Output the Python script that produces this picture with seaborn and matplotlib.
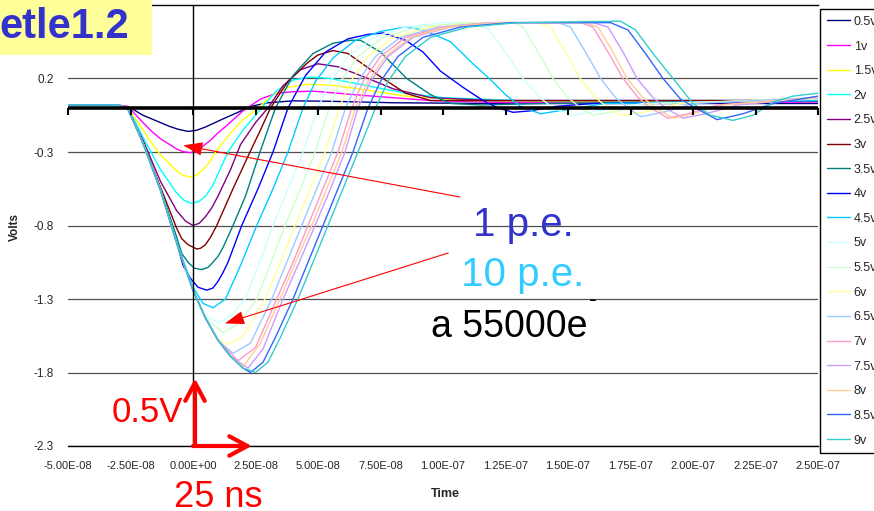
import numpy as np
import pandas as pd
import matplotlib
matplotlib.use("Agg")
import matplotlib.pyplot as plt
import seaborn as sns
from matplotlib.patches import Rectangle

sns.set_style("white")
plt.rcParams["font.family"] = ["Liberation Sans", "DejaVu Sans"]
NARROW = ["Liberation Sans Narrow", "Liberation Sans", "DejaVu Sans"]

W, H = 874, 511

labels = ["0.5v", "1v", "1.5v", "2v", "2.5v", "3v", "3.5v", "4v", "4.5v",
          "5v", "5.5v", "6v", "6.5v", "7v", "7.5v", "8v", "8.5v", "9v"]
colors = ["#000080", "#FF00FF", "#FFFF00", "#00FFFF", "#800080", "#800000",
          "#008080", "#0000FF", "#00CCFF", "#CCFFFF", "#CCFFCC", "#FFFF99",
          "#99CCFF", "#FF99CC", "#CC99FF", "#FFCC99", "#3366FF", "#33CCCC"]

# times in ns, volts
t_05 = [-50, -30, -25, -20, -13, -9.5, -6, -2, 1.5, 5, 12, 18, 23, 30, 40, 55, 80, 120, 180, 250]
v_05 = [0.02, 0.02, 0.0, -0.05, -0.10, -0.125, -0.145, -0.16, -0.152, -0.13, -0.075, -0.03,
        0.01, 0.035, 0.048, 0.045, 0.035, 0.03, 0.03, 0.03]

t_1 = [-50, -30, -26, -20, -16.5, -13, -6.5, -4, -1, 2.5, 7, 10, 13.5, 20, 27, 33.5, 40, 48,
       68, 95, 130, 180, 250]
v_1 = [0.02, 0.02, 0.01, -0.10, -0.16, -0.21, -0.28, -0.297, -0.305, -0.28, -0.22, -0.17,
       -0.12, -0.02, 0.06, 0.10, 0.11, 0.114, 0.085, 0.05, 0.035, 0.035, 0.04]

t_15 = [-50, -30, -26, -20, -16.5, -13, -6.5, -4, -1, 1.5, 4, 6.5, 9, 15, 20, 26, 32, 38, 45,
        55, 70, 85, 110, 170, 250]
v_15 = [0.02, 0.02, 0.0, -0.15, -0.24, -0.32, -0.43, -0.46, -0.47, -0.455, -0.42, -0.37,
        -0.30, -0.17, -0.08, 0.0, 0.09, 0.14, 0.16, 0.155, 0.12, 0.08, 0.05, 0.04, 0.05]

t_2 = [-50, -30, -26, -20, -16.5, -13, -6.5, -3.5, -0.5, 2.5, 5, 7.5, 10, 14, 20, 27.5, 33,
       40, 47, 55, 70, 85, 100, 130, 250]
v_2 = [0.02, 0.02, 0.0, -0.20, -0.31, -0.42, -0.58, -0.63, -0.65, -0.635, -0.60, -0.54,
       -0.45, -0.30, -0.15, 0.0, 0.11, 0.19, 0.21, 0.20, 0.15, 0.10, 0.07, 0.05, 0.05]

t_25 = [-50, -30, -26, -20, -16.5, -13, -6.5, -3, 0, 2.5, 5, 7.5, 10, 15, 19, 25, 30, 36, 43,
        50, 58, 70, 80, 95, 120, 250]
v_25 = [0.02, 0.02, -0.01, -0.22, -0.36, -0.50, -0.70, -0.77, -0.80, -0.785, -0.74, -0.68,
        -0.60, -0.42, -0.25, -0.10, 0.0, 0.15, 0.26, 0.30, 0.28, 0.20, 0.13, 0.07, 0.05, 0.05]

t_3 = [-50, -30, -26, -20, -16.5, -13, -6.5, -4.5, -2, 1.5, 3, 5, 7, 9.5, 16, 22.8, 27, 31,
       38, 46, 50, 56, 62, 76, 85, 95, 120, 160, 250]
v_3 = [0.02, 0.02, -0.01, -0.23, -0.39, -0.54, -0.82, -0.89, -0.93, -0.96, -0.955, -0.93,
       -0.88, -0.80, -0.55, -0.30, -0.15, 0.0, 0.18, 0.31, 0.36, 0.39, 0.37, 0.20, 0.10,
       0.05, 0.05, 0.05, 0.05]

t_35 = [-50, -30, -26, -20, -16.5, -13, -6.5, -4.5, -2, 0.5, 3.5, 6, 8, 10, 12, 16, 21, 26.8,
        33, 40, 48, 56, 63, 67, 75, 85.5, 95, 103, 115, 140, 250]
v_35 = [0.02, 0.02, -0.01, -0.24, -0.40, -0.55, -0.88, -0.99, -1.05, -1.09, -1.10, -1.085,
        -1.05, -1.01, -0.95, -0.80, -0.60, -0.30, 0.0, 0.22, 0.37, 0.44, 0.46, 0.46, 0.38,
        0.20, 0.09, 0.03, 0.02, 0.03, 0.05]

t_4 = [-50, -30, -26, -20, -16.5, -13, -6.5, -4, -1, 2, 5.5, 8, 10, 12, 14, 19.5, 26, 32, 38,
       45, 53, 62, 70, 76, 85, 92, 99, 108, 116, 122, 128, 135, 145, 160, 250]
v_4 = [0.02, 0.02, -0.01, -0.24, -0.40, -0.56, -0.92, -1.07, -1.16, -1.22, -1.24, -1.225,
       -1.18, -1.12, -1.05, -0.80, -0.55, -0.30, 0.0, 0.22, 0.38, 0.47, 0.50, 0.51, 0.46,
       0.38, 0.25, 0.14, 0.05, 0.0, -0.03, -0.02, 0.01, 0.03, 0.05]

t_45 = [-50, -30, -26, -23, -20, -16.5, -13, -6.5, 0, 4, 8, 13, 18.8, 25.5, 32, 38, 44, 49,
        56, 65, 75, 85, 92, 103, 112, 118.5, 125, 131, 139, 150, 165, 250]
v_45 = [0.02, 0.02, -0.01, -0.12, -0.24, -0.40, -0.56, -0.92, -1.22, -1.33, -1.36, -1.30,
        -1.08, -0.80, -0.55, -0.30, 0.0, 0.18, 0.34, 0.46, 0.52, 0.55, 0.53, 0.45, 0.30, 0.2,
        0.09, 0.01, -0.04, -0.01, 0.03, 0.05]

t_5 = [-50, -30, -26, -23, -20, -16.5, -13, -6.5, 0, 5, 10.8, 16, 20.8, 26, 32, 38, 44, 50,
       55, 62, 72, 85, 100, 112, 118, 125, 132, 138, 144, 152, 162, 180, 250]
v_5 = [0.02, 0.02, -0.01, -0.12, -0.24, -0.40, -0.56, -0.92, -1.24, -1.42, -1.46, -1.40,
       -1.30, -1.08, -0.80, -0.55, -0.30, 0.0, 0.18, 0.35, 0.48, 0.55, 0.58, 0.58, 0.54,
       0.38, 0.2, 0.08, 0.0, -0.05, -0.02, 0.03, 0.06]

t_55 = [-50, -30, -26, -23, -20, -16.5, -13, -6.5, 0, 5, 12, 18, 25.5, 31, 36.8, 43, 48.8,
        54.5, 59, 66, 76, 90, 110, 128, 132, 138, 144, 150, 155, 160, 170, 185, 250]
v_55 = [0.02, 0.02, -0.01, -0.12, -0.24, -0.40, -0.56, -0.92, -1.24, -1.43, -1.53, -1.47,
        -1.30, -1.06, -0.80, -0.55, -0.30, 0.0, 0.18, 0.35, 0.48, 0.55, 0.58, 0.58, 0.55,
        0.38, 0.2, 0.07, 0.0, -0.05, -0.02, 0.03, 0.06]

t_6 = [-50, -30, -26, -23, -20, -16.5, -13, -6.5, 0, 5, 10, 14, 20, 28.8, 35, 40.8, 47, 52.8,
       58.5, 63, 70, 80, 95, 115, 138, 143, 149, 155, 161, 166, 171, 180, 195, 250]
v_6 = [0.02, 0.02, -0.01, -0.12, -0.24, -0.40, -0.56, -0.92, -1.24, -1.43, -1.57, -1.61,
       -1.55, -1.30, -1.05, -0.80, -0.55, -0.30, 0.0, 0.18, 0.35, 0.48, 0.55, 0.58, 0.58,
       0.55, 0.38, 0.2, 0.07, 0.0, -0.05, -0.03, 0.03, 0.07]

t_65 = [-50, -30, -26, -23, -20, -16.5, -13, -6.5, 0, 5, 10, 16, 23, 31.5, 37.5, 43.5, 49.5,
        55.5, 61, 66, 73, 83, 98, 118, 146, 151, 157, 163, 169, 174, 179, 188, 200, 250]
v_65 = [0.02, 0.02, -0.01, -0.12, -0.24, -0.40, -0.56, -0.92, -1.24, -1.43, -1.58, -1.67,
        -1.60, -1.30, -1.05, -0.80, -0.55, -0.30, 0.0, 0.18, 0.35, 0.48, 0.55, 0.58, 0.58,
        0.55, 0.38, 0.2, 0.07, 0.0, -0.06, -0.03, 0.03, 0.07]

t_7 = [-50, -30, -26, -23, -20, -16.5, -13, -6.5, 0, 5, 10, 18, 25, 33.5, 40, 46, 52, 58,
       63.5, 68, 75, 85, 100, 120, 155, 160, 166, 172, 178, 183, 190, 198, 210, 250]
v_7 = [0.02, 0.02, -0.01, -0.12, -0.24, -0.40, -0.56, -0.92, -1.24, -1.43, -1.58, -1.72,
       -1.63, -1.30, -1.05, -0.80, -0.55, -0.30, 0.0, 0.18, 0.35, 0.48, 0.55, 0.58, 0.58,
       0.55, 0.38, 0.2, 0.07, 0.0, -0.07, -0.04, 0.02, 0.07]

t_75 = [-50, -30, -26, -23, -20, -16.5, -13, -6.5, 0, 5, 10, 15, 22, 28, 36, 42.5, 48.8, 55,
        60.8, 66, 71, 78, 88, 103, 123, 160, 166, 172, 177.6, 184, 189, 196, 205, 218, 250]
v_75 = [0.02, 0.02, -0.01, -0.12, -0.24, -0.40, -0.56, -0.92, -1.24, -1.43, -1.58, -1.69,
        -1.77, -1.64, -1.30, -1.05, -0.80, -0.55, -0.30, 0.0, 0.18, 0.35, 0.48, 0.55, 0.58,
        0.58, 0.55, 0.38, 0.2, 0.07, 0.0, -0.07, -0.04, 0.02, 0.07]

t_8 = [-50, -30, -26, -23, -20, -16.5, -13, -6.5, 0, 5, 10, 15, 20, 27, 34.8, 41, 47.5, 53.5,
       59.6, 65, 70, 77, 87, 102, 122, 157, 162, 168, 173.6, 180, 185, 192, 200, 212, 250]
v_8 = [0.02, 0.02, -0.01, -0.12, -0.24, -0.40, -0.56, -0.92, -1.24, -1.43, -1.58, -1.69,
       -1.76, -1.60, -1.30, -1.05, -0.80, -0.55, -0.30, 0.0, 0.18, 0.35, 0.48, 0.55, 0.58,
       0.58, 0.55, 0.38, 0.2, 0.07, 0.0, -0.07, -0.04, 0.02, 0.07]

t_85 = [-50, -30, -26, -23, -20, -16.5, -13, -6.5, 0, 5, 10, 15, 20, 23, 28, 33, 40, 46, 52,
        58, 64, 70, 75, 82, 92, 107, 127, 167, 174, 181, 188, 195, 201, 209.6, 220, 232, 250]
v_85 = [0.02, 0.02, -0.01, -0.12, -0.24, -0.40, -0.56, -0.92, -1.24, -1.43, -1.58, -1.69,
        -1.77, -1.80, -1.73, -1.56, -1.30, -1.05, -0.80, -0.55, -0.30, 0.0, 0.18, 0.35, 0.48,
        0.55, 0.58, 0.58, 0.53, 0.37, 0.2, 0.06, 0.0, -0.08, -0.04, 0.03, 0.08]

t_9 = [-50, -30, -26, -23, -20, -16.5, -13, -6.5, 0, 5, 10, 15, 20, 25, 30, 35, 42, 48, 54,
       60, 66, 73, 78, 85, 95, 110, 130, 171, 177, 184, 192, 200, 207, 216, 224, 232, 240, 250]
v_9 = [0.02, 0.02, -0.01, -0.12, -0.24, -0.40, -0.56, -0.92, -1.24, -1.43, -1.58, -1.69,
       -1.77, -1.80, -1.73, -1.56, -1.30, -1.05, -0.80, -0.55, -0.30, 0.0, 0.18, 0.35, 0.48,
       0.55, 0.58, 0.59, 0.53, 0.37, 0.2, 0.03, -0.05, -0.085, -0.05, 0.04, 0.08, 0.1]

times = [t_05, t_1, t_15, t_2, t_25, t_3, t_35, t_4, t_45,
         t_5, t_55, t_6, t_65, t_7, t_75, t_8, t_85, t_9]
volts = [v_05, v_1, v_15, v_2, v_25, v_3, v_35, v_4, v_45,
         v_5, v_55, v_6, v_65, v_7, v_75, v_8, v_85, v_9]

x_ticks = [-5e-8, -2.5e-8, 0.0, 2.5e-8, 5e-8, 7.5e-8, 1e-7, 1.25e-7, 1.5e-7,
           1.75e-7, 2e-7, 2.25e-7, 2.5e-7]
y_ticks = [0.2, -0.3, -0.8, -1.3, -1.8, -2.3]

frames = []
for lab, t, v in zip(labels, times, volts):
    frames.append(pd.DataFrame({"Time": np.array(t) * 1e-9, "Volts": v, "Series": lab}))
df = pd.concat(frames, ignore_index=True)


def fpos(x, y):
    return x / W, 1 - y / H


fig = plt.figure(figsize=(W / 100, H / 100), dpi=100)
ax = fig.add_axes([68 / W, 1 - 446 / H, 750 / W, 441 / H])

sns.lineplot(data=df, x="Time", y="Volts", hue="Series", hue_order=labels,
             palette=dict(zip(labels, colors)), estimator=None, sort=False,
             linewidth=1.0, ax=ax)

handles, labs = ax.get_legend_handles_labels()
ax.get_legend().remove()

ax.set_xlim(-5e-8, 2.5e-7)
ax.set_ylim(-2.3, 0.7)
ax.set_xticks(x_ticks)
ax.set_xticklabels([f"{x:.2E}" for x in x_ticks], family=NARROW, fontsize=8)
ax.set_yticks(y_ticks)
ax.set_yticklabels([f"{y:.1f}" for y in y_ticks], fontsize=8.5)
ax.tick_params(axis="both", length=0)
ax.tick_params(axis="x", pad=11)
ax.tick_params(axis="y", pad=10)
ax.set_xlabel("")
ax.set_ylabel("")
ax.grid(axis="y", color="#505050", linewidth=0.9)
ax.grid(axis="x", visible=False)
for side in ["left", "right"]:
    ax.spines[side].set_visible(False)
for side in ["top", "bottom"]:
    ax.spines[side].set_color("black")
    ax.spines[side].set_linewidth(1.0)

# axes crossing at the origin, Excel style
ax.axhline(0, color="black", linewidth=2.6, zorder=3)
ax.plot(x_ticks, [0] * len(x_ticks), linestyle="none", marker=3, markersize=5,
        markeredgewidth=1.5, color="black", zorder=3, clip_on=False)
ax.axvline(0, color="black", linewidth=1.0, zorder=3)

fig.legend(handles, labs, loc="upper left", bbox_to_anchor=fpos(820, 9), borderaxespad=0,
           frameon=True, fancybox=False, edgecolor="black", framealpha=1,
           prop={"family": NARROW, "size": 9}, handlelength=1.85, handletextpad=0.3,
           labelspacing=1.01, borderpad=0.55)
fig.legends[0].get_frame().set_linewidth(1.0)

# title tag in the upper left
fig.patches.append(Rectangle((0, 1 - 55 / H), 152 / W, 55 / H, transform=fig.transFigure,
                             facecolor="#FFFF99", edgecolor="none", zorder=5))
fig.text(*fpos(-1, 38), "etle1.2", fontsize=30, fontweight="bold", color="#3333CC",
         ha="left", va="baseline", zorder=6)

fig.text(*fpos(15, 227), "Volts", rotation=90, fontsize=8.5, fontweight="bold",
         ha="center", va="center")
fig.text(*fpos(445, 494), "Time", fontsize=9, fontweight="bold", ha="center", va="center")

# annotations
fig.text(*fpos(473, 236), "1 p.e.", fontsize=29, color="#3333CC", ha="left", va="baseline")
fig.text(*fpos(461, 286), "10 p.e.", fontsize=29, color="#33CCFF", ha="left", va="baseline")
fig.text(*fpos(431, 337), "a 55000e", fontsize=27, color="black", ha="left", va="baseline")
fig.text(*fpos(589, 306), "-", fontsize=17, color="black", ha="left", va="baseline")

ax.annotate("", xy=(-3.9e-9, -0.255), xytext=(106.8e-9, -0.606),
            arrowprops=dict(arrowstyle="-|>,head_length=1.0,head_width=0.35", color="red",
                            lw=0.8, shrinkA=0, shrinkB=0, mutation_scale=12))
ax.annotate("", xy=(12.8e-9, -1.466), xytext=(102.1e-9, -0.987),
            arrowprops=dict(arrowstyle="-|>,head_length=1.0,head_width=0.35", color="red",
                            lw=0.8, shrinkA=0, shrinkB=0, mutation_scale=12))

# scale bars
ax.annotate("", xy=(0.8e-9, -1.84), xytext=(0.8e-9, -2.3),
            arrowprops=dict(arrowstyle="->,head_length=0.65,head_width=0.35", color="red",
                            lw=3, shrinkA=0, shrinkB=0, mutation_scale=20))
ax.annotate("", xy=(23.5e-9, -2.3), xytext=(0.0, -2.3),
            arrowprops=dict(arrowstyle="->,head_length=0.65,head_width=0.35", color="red",
                            lw=3, shrinkA=0, shrinkB=0, mutation_scale=20))
fig.text(*fpos(112, 422), "0.5V", fontsize=25, color="red", ha="left", va="baseline")
fig.text(*fpos(174, 507), "25 ns", fontsize=26, color="red", ha="left", va="baseline")

fig.savefig("out.png", dpi=100)
